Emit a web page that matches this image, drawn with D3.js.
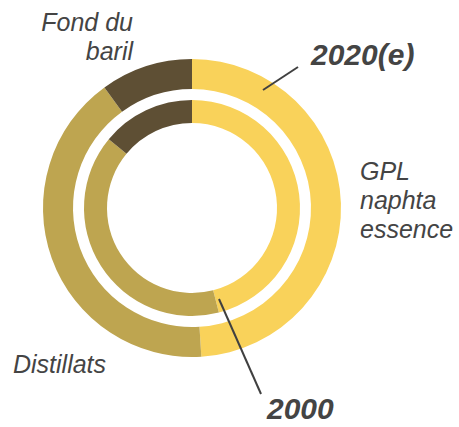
<!DOCTYPE html>
<html>
<head>
<meta charset="utf-8">
<script src="https://cdn.jsdelivr.net/npm/d3@7"></script>
<style>
  html, body { margin: 0; padding: 0; background: #fff; }
  svg { display: block; }
</style>
</head>
<body>
<svg id="chart"></svg>
<script>
// product shares (%), clockwise from 12 o'clock
const categories = ['GPL naphta essence', 'Distillats', 'Fond du baril'];
const values2020 = [49, 41, 10];
const values2000 = [46, 40, 14];
const colors = ['#f9d25a', '#bea550', '#5e4f34'];

const width = 459, height = 427;
const cx = 192, cy = 208;

const svg = d3.select('#chart').attr('width', width).attr('height', height)
  .style('font-family', '"Liberation Sans", Arial, sans-serif');

const color = d3.scaleOrdinal().domain(categories).range(colors);
const pie = d3.pie().sort(null).value(d => d.value);

function ring(values, inner, outer) {
  const data = categories.map((c, i) => ({ name: c, value: values[i] }));
  const arc = d3.arc().innerRadius(inner).outerRadius(outer);
  svg.append('g')
    .attr('transform', `translate(${cx},${cy})`)
    .selectAll('path')
    .data(pie(data))
    .join('path')
    .attr('d', arc)
    .attr('fill', d => color(d.data.name));
}

ring(values2020, 119, 149);
ring(values2000, 85, 108);

// leader lines
const lines = [
  [[298, 67], [263, 90]],
  [[219, 299], [261, 394]],
];
svg.selectAll('line.leader').data(lines).join('line')
  .attr('class', 'leader')
  .attr('x1', d => d[0][0]).attr('y1', d => d[0][1])
  .attr('x2', d => d[1][0]).attr('y2', d => d[1][1])
  .attr('stroke', '#404040').attr('stroke-width', 2);

// category labels
const label = (x, y, lines, anchor) => {
  const t = svg.append('text')
    .attr('x', x).attr('y', y)
    .attr('text-anchor', anchor)
    .attr('font-size', 25).attr('font-style', 'italic')
    .attr('fill', '#444');
  lines.forEach((l, i) => t.append('tspan').attr('x', x).attr('dy', i ? 29 : 0).text(l));
};
label(133, 31, ['Fond du', 'baril'], 'end');
label(360, 180, ['GPL', 'naphta', 'essence'], 'start');
label(13, 373, ['Distillats'], 'start');

// ring (year) labels
svg.append('text').attr('x', 311).attr('y', 65)
  .attr('font-size', 30).attr('font-weight', 'bold').attr('font-style', 'italic')
  .attr('fill', '#444').text('2020(e)');
svg.append('text').attr('x', 267).attr('y', 419)
  .attr('font-size', 30).attr('font-weight', 'bold').attr('font-style', 'italic')
  .attr('fill', '#444').text('2000');
</script>
</body>
</html>
